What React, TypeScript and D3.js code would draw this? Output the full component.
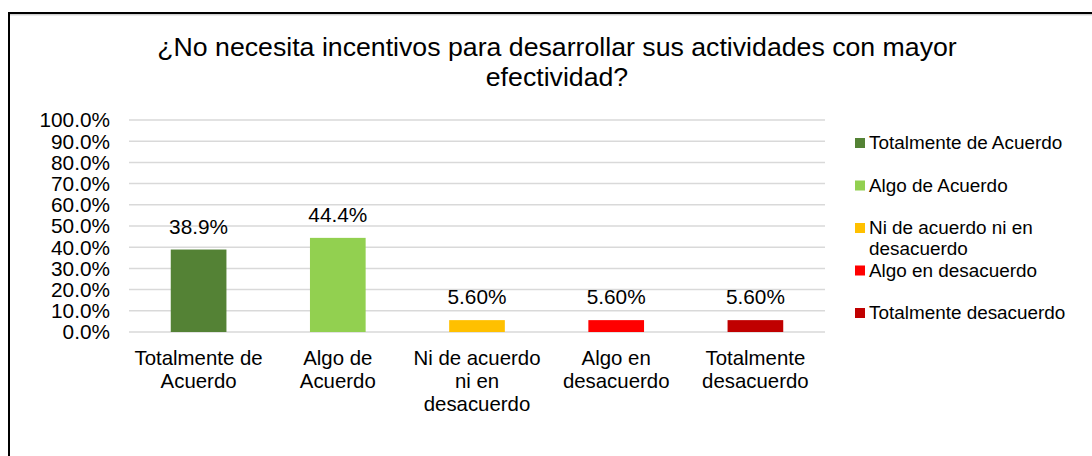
import React from "react";
import * as d3 from "d3";

const title = "¿No necesita incentivos para desarrollar sus actividades con mayor efectividad?";
const categories = [
  "Totalmente de Acuerdo",
  "Algo de Acuerdo",
  "Ni de acuerdo ni en desacuerdo",
  "Algo en desacuerdo",
  "Totalmente desacuerdo",
];
const values = [0.389, 0.444, 0.056, 0.056, 0.056];
const valueLabels = ["38.9%", "44.4%", "5.60%", "5.60%", "5.60%"];
const colors = ["#548235", "#92D050", "#FFC000", "#FF0000", "#C00000"];
const yTicks = [0, 0.1, 0.2, 0.3, 0.4, 0.5, 0.6, 0.7, 0.8, 0.9, 1.0];

const FONT = '"Liberation Sans", Arial, sans-serif';

let ctx: CanvasRenderingContext2D | null = null;
function measure(text: string, size: number) {
  if (!ctx) ctx = document.createElement("canvas").getContext("2d");
  if (!ctx) return text.length * size * 0.5;
  ctx.font = `${size}px "Liberation Sans", Arial, sans-serif`;
  return ctx.measureText(text).width;
}
function wrap(text: string, maxW: number, size: number) {
  const words = text.split(" ");
  const lines: string[] = [];
  let cur = "";
  for (const w of words) {
    const t = cur ? cur + " " + w : w;
    if (cur && measure(t, size) > maxW) {
      lines.push(cur);
      cur = w;
    } else cur = t;
  }
  if (cur) lines.push(cur);
  return lines;
}

export default function App() {
  const W = 1092, H = 456;
  const plotLeft = 129, plotRight = 825, plotTop = 120, plotBottom = 332;
  const x = d3.scaleBand<string>().domain(categories).range([plotLeft, plotRight]).paddingInner(0.6).paddingOuter(0.3);
  const y = d3.scaleLinear().domain([0, 1]).range([plotBottom, plotTop]);
  const fmt = d3.format(".1%");

  const titleLines = wrap(title, 840, 26.7);
  const legendTop = 143, legendStep = 42.5;

  return (
    <svg width={W} height={H} style={{ position: "absolute", left: 0, top: 0, display: "block" }} fontFamily={FONT}>
      <rect x={0} y={0} width={W} height={H} fill="#fff" />
      <rect x={9} y={13} width={1300} height={700} fill="none" stroke="#000" strokeWidth={2} />
      <line x1={10} x2={W} y1={14.8} y2={14.8} stroke="#bbb" strokeWidth={1} />
      {titleLines.map((l, i) => (
        <text key={i} x={557} y={56 + i * 30} textAnchor="middle" fontSize={26.7} fill="#000">{l}</text>
      ))}
      {yTicks.map((t) => (
        <g key={t}>
          <line x1={plotLeft} x2={plotRight} y1={y(t)} y2={y(t)} stroke="#D9D9D9" strokeWidth={1.5} />
          <text x={110} y={y(t) + 7.3} textAnchor="end" fontSize={20.8} fill="#000">{fmt(t)}</text>
        </g>
      ))}
      {categories.map((c, i) => (
        <g key={c}>
          <rect x={x(c)!} y={y(values[i])} width={x.bandwidth()} height={y(0) - y(values[i])} fill={colors[i]} />
          <text x={x(c)! + x.bandwidth() / 2} y={y(values[i]) - 16} textAnchor="middle" fontSize={20.8} fill="#000">{valueLabels[i]}</text>
          {wrap(c, 136, 20.4).map((l, j) => (
            <text key={j} x={x(c)! + x.bandwidth() / 2} y={365 + j * 23} textAnchor="middle" fontSize={20.4} fill="#000">{l}</text>
          ))}
        </g>
      ))}
      {categories.map((c, i) => {
        const cy = legendTop + i * legendStep;
        return (
          <g key={"lg" + c}>
            <rect x={855} y={cy - 5} width={10} height={10} fill={colors[i]} />
            {wrap(c, 205, 18.9).map((l, j) => (
              <text key={j} x={869} y={cy + 6 + j * 21} fontSize={18.9} fill="#000">{l}</text>
            ))}
          </g>
        );
      })}
    </svg>
  );
}
